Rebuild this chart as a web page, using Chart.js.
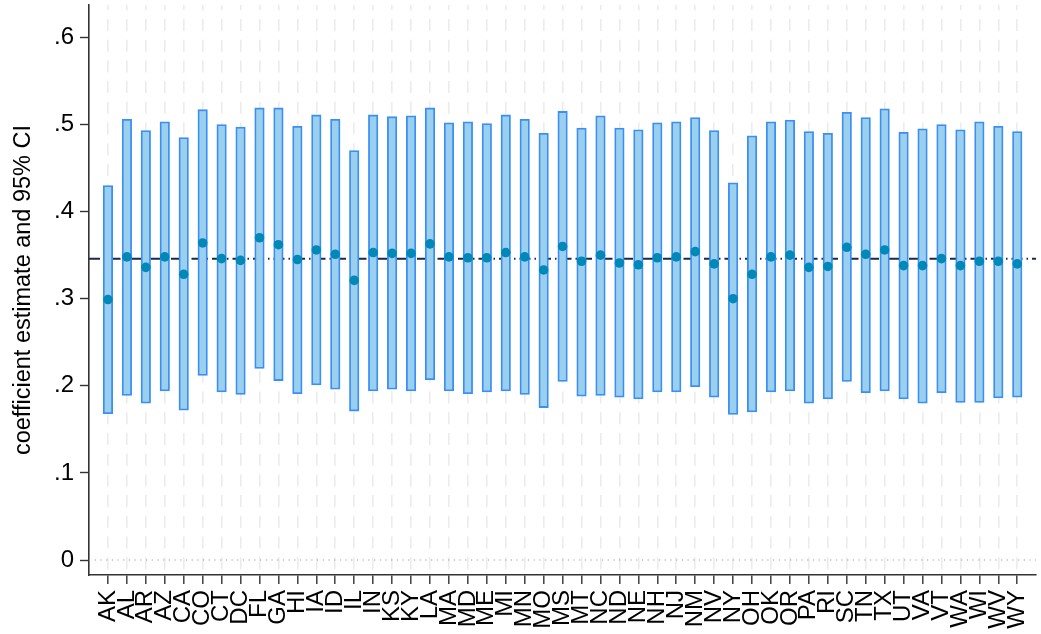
<!DOCTYPE html>
<html><head><meta charset="utf-8">
<script src="https://cdn.jsdelivr.net/npm/chart.js@4/dist/chart.umd.min.js"></script>
<style>html,body{margin:0;padding:0;background:#fff}#c{display:block}</style>
</head><body>
<canvas id="c" width="1041" height="634"></canvas>
<script>
const states = ['AK','AL','AR','AZ','CA','CO','CT','DC','FL','GA','HI','IA','ID','IL','IN','KS','KY','LA','MA','MD','ME','MI','MN','MO','MS','MT','NC','ND','NE','NH','NJ','NM','NV','NY','OH','OK','OR','PA','RI','SC','TN','TX','UT','VA','VT','WA','WI','WV','WY'];
const ciUpper = [0.430,0.506,0.493,0.503,0.485,0.517,0.500,0.497,0.519,0.519,0.498,0.511,0.506,0.470,0.511,0.509,0.510,0.519,0.502,0.503,0.501,0.511,0.506,0.490,0.515,0.496,0.510,0.496,0.494,0.502,0.503,0.508,0.493,0.433,0.487,0.503,0.505,0.492,0.490,0.514,0.508,0.518,0.491,0.495,0.500,0.494,0.503,0.498,0.492];
const estimates = [0.299,0.348,0.336,0.348,0.328,0.364,0.346,0.344,0.370,0.362,0.345,0.356,0.351,0.321,0.353,0.352,0.352,0.363,0.348,0.347,0.347,0.353,0.348,0.333,0.360,0.343,0.350,0.341,0.339,0.347,0.348,0.354,0.340,0.300,0.328,0.348,0.350,0.336,0.337,0.359,0.351,0.356,0.338,0.338,0.346,0.338,0.343,0.343,0.340];
const ciLower = [0.168,0.189,0.180,0.194,0.172,0.212,0.193,0.190,0.220,0.206,0.191,0.201,0.196,0.171,0.194,0.196,0.194,0.207,0.194,0.191,0.193,0.194,0.190,0.175,0.205,0.188,0.189,0.187,0.185,0.193,0.193,0.199,0.187,0.167,0.170,0.193,0.194,0.180,0.185,0.205,0.192,0.194,0.185,0.180,0.192,0.181,0.181,0.186,0.187];
const pooledEstimate = 0.346;
const zeroLine = 0;
const yTicks = [0, 0.1, 0.2, 0.3, 0.4, 0.5, 0.6];
const yTitle = 'coefficient estimate and 95% CI';

const FONT = '"Liberation Sans", Arial, Helvetica, sans-serif';
Chart.defaults.font.family = FONT;
Chart.defaults.color = '#000';

const xMin = -1, xMax = states.length;

new Chart(document.getElementById('c'), {
  type: 'bar',
  data: {
    datasets: [
      {
        type: 'line', order: 4,
        data: [{x: xMin, y: zeroLine}, {x: xMax, y: zeroLine}],
        borderColor: '#9a9a9a', borderWidth: 1.2, borderDash: [1.2, 4.5],
        pointRadius: 0, fill: false
      },
      {
        type: 'line', order: 3,
        data: [{x: xMin, y: pooledEstimate}, {x: xMax, y: pooledEstimate}],
        borderColor: '#1b2a4a', borderWidth: 2, borderDash: [11, 4, 1.5, 4],
        pointRadius: 0, fill: false
      },
      {
        type: 'bar', order: 2,
        data: states.map((s, i) => ({x: i, y: [ciLower[i], ciUpper[i]]})),
        backgroundColor: '#9acfee', borderColor: '#3a8ff5', borderWidth: 1.8,
        borderSkipped: false, barThickness: 9.5
      },
      {
        type: 'scatter', order: 1,
        data: states.map((s, i) => ({x: i, y: estimates[i]})),
        backgroundColor: '#0088b8', borderWidth: 0, pointRadius: 4.8, showLine: false
      }
    ]
  },
  options: {
    responsive: false,
    animation: false,
    devicePixelRatio: 1,
    layout: {padding: {top: 5, right: 0, left: 0, bottom: 0}},
    plugins: {legend: {display: false}, tooltip: {enabled: false}},
    scales: {
      x: {
        type: 'linear', min: xMin, max: xMax, offset: false,
        afterBuildTicks: (axis) => { axis.ticks = states.map((s, i) => ({value: i})); },
        afterFit: (axis) => { axis.height = 59; axis.paddingLeft = 0; axis.paddingRight = 0; },
        ticks: {
          autoSkip: false, minRotation: 90, maxRotation: 90, padding: 6,
          font: {size: 24}, color: '#000',
          callback: (v) => states[v]
        },
        grid: {
          display: true, drawOnChartArea: true, offset: false,
          color: '#ececec', lineWidth: 1.6,
          drawTicks: true, tickLength: 9, tickColor: '#333', tickWidth: 1.4, tickBorderDash: []
        },
        border: {display: true, color: '#333', width: 1.6, dash: [12, 8.7], dashOffset: 6.7}
      },
      y: {
        type: 'linear', min: -0.01722, max: 0.6372,
        afterBuildTicks: (axis) => { axis.ticks = yTicks.map(v => ({value: v})); },
        afterFit: (axis) => { axis.width = 89; axis.paddingTop = 0; axis.paddingBottom = 0; },
        ticks: {
          padding: 6, font: {size: 24}, color: '#000',
          callback: (v) => v === 0 ? '0' : v.toFixed(1).replace(/^0/, '')
        },
        grid: {
          display: true, drawOnChartArea: false, drawTicks: true,
          tickLength: 9, tickColor: '#333', tickWidth: 1.4
        },
        border: {display: true, color: '#333', width: 1.6},
        title: {display: true, text: yTitle, font: {size: 23.5}, color: '#000', padding: {top: 9, bottom: 0}}
      }
    }
  }
});
</script>
</body></html>
